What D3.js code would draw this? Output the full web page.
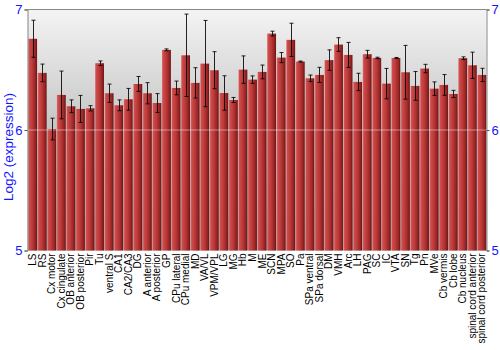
<!DOCTYPE html>
<html><head><meta charset="utf-8">
<script src="https://cdn.jsdelivr.net/npm/d3@7"></script>
<style>body{margin:0;background:#fff}svg{display:block}</style>
</head><body><svg id="c" width="500" height="350"></svg>
<script>
const categories = ["LS","RS","Cx motor","Cx cingulate","OB anterior","OB posterior","Pir","Tu","ventral S","CA1","CA2/CA3","DG","A anterior","A posterior","GP","CPu lateral","CPu medial","MD","VA/VL","VPM/VPL","LG","MG","Hb","M","ME","SCN","MPA","SO","Pa","SPa ventral","SPa dorsal","DM","VMH","Arc","LH","PAG","SC","IC","VTA","SN","Tg","Pn","MVe","Cb vermis","Cb lobe","Cb nucleus","spinal cord anterior","spinal cord posterior"];
const values = [6.757,6.474,6.008,6.291,6.197,6.175,6.18,6.554,6.305,6.205,6.255,6.382,6.305,6.224,6.665,6.349,6.62,6.391,6.551,6.496,6.307,6.249,6.501,6.418,6.482,6.80,6.601,6.748,6.568,6.429,6.457,6.580,6.709,6.623,6.399,6.629,6.598,6.385,6.598,6.479,6.366,6.51,6.343,6.374,6.299,6.596,6.537,6.457];
const errors = [0.154,0.073,0.09,0.198,0.053,0.112,0.022,0.019,0.076,0.045,0.09,0.062,0.088,0.078,0.008,0.057,0.342,0.126,0.358,0.154,0.143,0.021,0.114,0.031,0.057,0.02,0.042,0.138,0.004,0.027,0.063,0.085,0.057,0.104,0.072,0.032,0.006,0.126,0.004,0.223,0.119,0.035,0.056,0.086,0.03,0.011,0.109,0.055];
const yTicks = [5,6,7];
const yTitle = "Log2 (expression)";

const svg = d3.select("#c");
const L=27.5, R=486.5, T=9.5, B=250.5;
const x = d3.scaleBand().domain(categories).range([L+0.5,R]).paddingInner(0.07).paddingOuter(0.02);
const y = d3.scaleLinear().domain([5,7]).range([B,T]);

const defs = svg.append("defs");
const bg = defs.append("linearGradient").attr("id","bg").attr("x1",0).attr("x2",0).attr("y1",0).attr("y2",1);
bg.append("stop").attr("offset","0%").attr("stop-color","#f4f4f4");
bg.append("stop").attr("offset","50%").attr("stop-color","#c4c4c4");
bg.append("stop").attr("offset","100%").attr("stop-color","#a8a8a8");
const bar = defs.append("linearGradient").attr("id","bar").attr("x1",0).attr("x2",1).attr("y1",0).attr("y2",0);
[["0%","#e07a7a"],["12%","#cf4c4c"],["45%","#bd3a3a"],["80%","#962424"],["100%","#6a1414"]].forEach(s=>bar.append("stop").attr("offset",s[0]).attr("stop-color",s[1]));

svg.append("rect").attr("x",L).attr("y",T).attr("width",R-L).attr("height",B-T).attr("fill","url(#bg)");

svg.append("g").selectAll("rect").data(categories).join("rect")
  .attr("x",d=>x(d)).attr("width",x.bandwidth())
  .attr("y",(d,i)=>y(values[i])).attr("height",(d,i)=>B-y(values[i]))
  .attr("fill","url(#bar)");

// gridline at 6
svg.append("line").attr("x1",L).attr("x2",R).attr("y1",y(6)).attr("y2",y(6))
  .attr("stroke","#fff").attr("stroke-opacity",0.45).attr("stroke-width",1);

// error bars
const eg = svg.append("g").attr("stroke","#000").attr("stroke-width",1).attr("stroke-opacity",0.85);
categories.forEach((c,i)=>{
  const cx = Math.round(x(c)+x.bandwidth()/2)+0.5;
  const y1 = y(values[i]+errors[i]), y2 = y(values[i]-errors[i]);
  eg.append("line").attr("x1",cx).attr("x2",cx).attr("y1",y1).attr("y2",y2);
  eg.append("line").attr("x1",cx-2).attr("x2",cx+2).attr("y1",y1).attr("y2",y1);
  eg.append("line").attr("x1",cx-2).attr("x2",cx+2).attr("y1",y2).attr("y2",y2);
});

// frame lines
svg.append("line").attr("x1",L).attr("x2",R).attr("y1",T).attr("y2",T).attr("stroke","#888");

const ya = svg.append("g").attr("transform",`translate(${L},0)`)
  .call(d3.axisLeft(y).tickValues(yTicks).tickSize(3).tickPadding(2).tickFormat(d3.format("d")));
const yb = svg.append("g").attr("transform",`translate(${R},0)`)
  .call(d3.axisRight(y).tickValues(yTicks).tickSize(3).tickPadding(2).tickFormat(d3.format("d")));
[ya,yb].forEach(g=>{
  g.select(".domain").attr("stroke","#888");
  g.selectAll(".tick line").attr("stroke","#555");
  g.selectAll("text").attr("fill","#1414ff").style("font-family","Liberation Sans, Arial, sans-serif").style("font-size","13px");
});

svg.append("text").attr("transform","translate(13,147) rotate(-90)").attr("text-anchor","middle")
  .attr("fill","#1414ff").style("font-family","Liberation Sans, Arial, sans-serif").style("font-size","13.5px").text(yTitle);

const xa = svg.append("g").attr("transform",`translate(0,${B})`)
  .call(d3.axisBottom(x).tickSize(0).tickPadding(0));
xa.select(".domain").remove();
xa.selectAll("text").attr("transform","rotate(-90)").attr("text-anchor","end")
  .attr("x",-3).attr("y",0).attr("dy","0.35em")
  .attr("fill","#000").style("font-family","Liberation Sans, Arial, sans-serif").style("font-size","10px");
</script></body></html>
